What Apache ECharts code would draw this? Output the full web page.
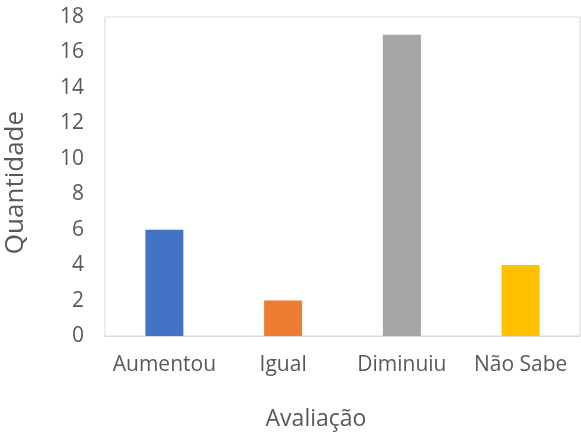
<!DOCTYPE html>
<html>
<head>
<meta charset="utf-8">
<script src="https://cdn.jsdelivr.net/npm/echarts@6/dist/echarts.min.js"></script>
<style>
html,body{margin:0;padding:0;background:#fff;}
#chart{width:581px;height:434px;}
</style>
</head>
<body>
<div id="chart"></div>
<script>
var categories = ['Aumentou', 'Igual', 'Diminuiu', 'Não Sabe'];
var values = [6, 2, 17, 4];
var barColors = ['#4472C4', '#ED7D31', '#A5A5A5', '#FFC000'];
var xTitle = 'Avaliação';
var yTitle = 'Quantidade';

var chart = echarts.init(document.getElementById('chart'), null, {renderer: 'canvas'});
var font = '"Open Sans", sans-serif';
chart.setOption({
  animation: false,
  backgroundColor: '#ffffff',
  grid: {
    left: 105, top: 17, right: 1, bottom: 98,
    containLabel: false,
    outerBoundsMode: 'none',
    show: true, borderColor: '#d9d9d9', borderWidth: 1, backgroundColor: 'transparent'
  },
  xAxis: {
    type: 'category',
    data: categories,
    name: xTitle,
    nameLocation: 'middle',
    nameGap: 72,
    nameTextStyle: {color: '#595959', fontSize: 23, fontFamily: font, padding: [0, 53, 0, 0]},
    axisLine: {show: true, lineStyle: {color: '#d9d9d9', width: 1}},
    axisTick: {show: false},
    axisLabel: {color: '#595959', fontSize: 21, fontFamily: font, margin: 19, interval: 0}
  },
  yAxis: {
    type: 'value',
    min: 0, max: 18, interval: 2,
    name: yTitle,
    nameLocation: 'middle',
    nameGap: 76,
    nameTextStyle: {color: '#595959', fontSize: 26, fontFamily: font, padding: [0, 12, 0, 0]},
    axisLine: {show: false},
    axisTick: {show: false},
    splitLine: {show: false},
    axisLabel: {color: '#595959', fontSize: 21, fontFamily: font, margin: 21}
  },
  series: [{
    type: 'bar',
    barWidth: 38,
    data: values.map(function (v, i) { return {value: v, itemStyle: {color: barColors[i]}}; })
  }]
});
</script>
</body>
</html>
